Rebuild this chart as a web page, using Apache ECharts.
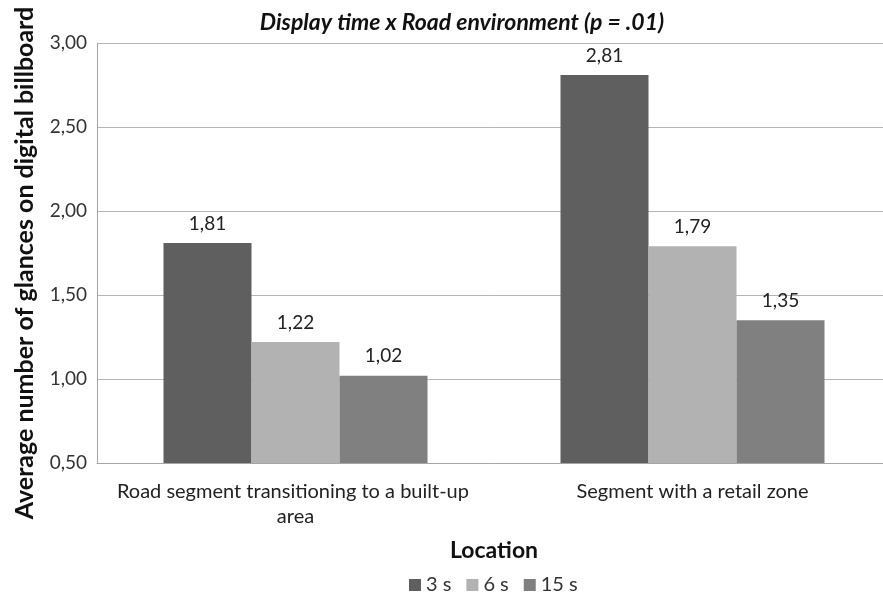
<!DOCTYPE html>
<html>
<head>
<meta charset="utf-8">
<script src="https://cdn.jsdelivr.net/npm/echarts@6/dist/echarts.min.js"></script>
<style>
  html, body { margin: 0; padding: 0; background: #fff; }
  #chart { width: 883px; height: 596px; }
</style>
</head>
<body>
<div id="chart"></div>
<script>
// Average glances on a digital billboard by location and display time
const locations = ['Road segment transitioning to a built-up area', 'Segment with a retail zone'];
const displayTimes = ['3 s', '6 s', '15 s'];
const glances3s = [1.81, 2.81];
const glances6s = [1.22, 1.79];
const glances15s = [1.02, 1.35];
const seriesColors = ['#5f5f5f', '#b2b2b2', '#808080'];

const FONT = 'Lato, "Open Sans", sans-serif';
const fmt = v => v.toFixed(2).replace('.', ',');

const values = [glances3s, glances6s, glances15s];

const chart = echarts.init(document.getElementById('chart'), null, { renderer: 'canvas' });
chart.setOption({
  animation: false,
  backgroundColor: '#ffffff',
  textStyle: { fontFamily: FONT },
  title: {
    text: 'Display time x Road environment (p = .01)',
    left: 457,
    top: 6,
    textAlign: 'center',
    textStyle: { fontFamily: FONT, fontSize: 23, fontWeight: 'bold', fontStyle: 'italic', color: '#111' }
  },
  legend: {
    data: displayTimes,
    top: 575,
    left: 409,
    padding: 0,
    itemWidth: 12,
    itemHeight: 12,
    itemGap: 15,
    icon: 'rect',
    textStyle: { fontFamily: FONT, fontSize: 20, color: '#333' }
  },
  // the plot area runs slightly past the right edge of the canvas
  grid: { left: 97, top: 43, width: 794, height: 420, containLabel: false, outerBoundsMode: 'none' },
  xAxis: {
    type: 'category',
    data: locations,
    name: 'Location',
    nameLocation: 'middle',
    nameGap: 76,
    nameTextStyle: { fontFamily: FONT, fontSize: 23, fontWeight: 'bold', color: '#111' },
    axisLine: { lineStyle: { color: '#a6a6a6', width: 1 } },
    axisTick: { show: false },
    axisLabel: {
      fontFamily: FONT, fontSize: 20, color: '#222', margin: 16,
      width: 380, overflow: 'break', lineHeight: 25, interval: 0
    }
  },
  yAxis: {
    type: 'value',
    min: 0.5,
    max: 3,
    interval: 0.5,
    axisLine: { show: true, lineStyle: { color: '#a6a6a6', width: 1 } },
    axisTick: { show: false },
    axisLabel: { fontFamily: FONT, fontSize: 19, color: '#333', margin: 10, formatter: fmt },
    splitLine: { lineStyle: { color: '#b5b5b5', width: 1 } }
  },
  graphic: [{
    type: 'text',
    x: 25,
    y: 263,
    rotation: Math.PI / 2,
    style: {
      text: 'Average number of glances on digital billboard',
      fontFamily: FONT,
      fontSize: 25,
      fontWeight: 'bold',
      fill: '#111',
      align: 'center',
      verticalAlign: 'middle'
    }
  }],
  series: displayTimes.map((name, i) => ({
    name,
    type: 'bar',
    data: values[i],
    barGap: '0%',
    barWidth: 88,
    itemStyle: { color: seriesColors[i] },
    label: {
      show: true,
      position: 'top',
      distance: 10,
      fontFamily: FONT,
      fontSize: 19,
      color: '#222',
      formatter: p => fmt(p.value)
    }
  }))
});
</script>
</body>
</html>
